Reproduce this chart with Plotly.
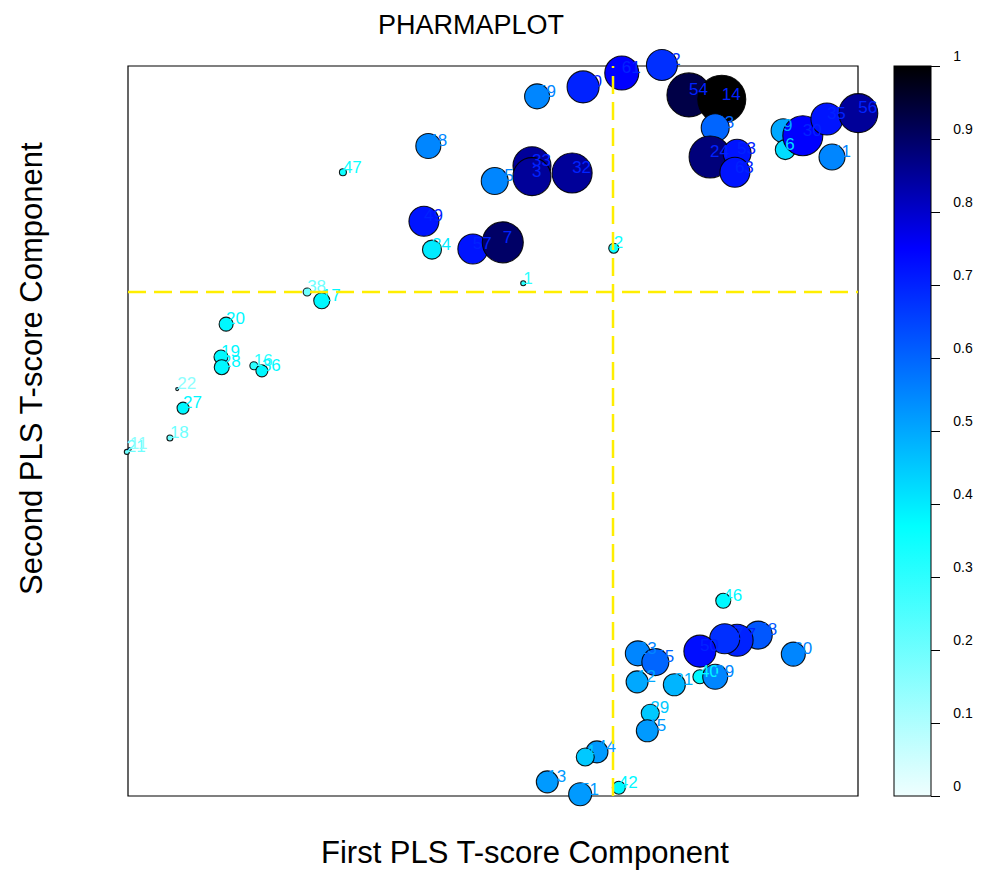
import plotly.graph_objects as go

# ---- data (T-score components, colour score, bubble weight, compound labels) ----
labels = ["52", "54", "14", "43", "24", "53", "63", "9", "6", "30", "35", "56", "41",
          "59", "10", "61", "48", "25", "33", "3", "32", "49", "34", "57", "7", "2", "1", "47",
          "38", "17", "20", "19", "28", "16", "36", "22", "27", "18", "21", "11",
          "46", "58", "37", "47", "50", "60", "23", "55", "12", "31", "40", "39",
          "29", "45", "44", "4", "13", "51", "42"]
t1 = [0.67, 1.04, 1.49, 1.40, 1.33, 1.70, 1.67, 2.33, 2.36, 2.60, 2.93, 3.36, 3.00,
      -1.04, -0.41, 0.12, -2.53, -1.62, -1.11, -1.11, -0.56, -2.59, -2.48, -1.92, -1.51, 0.01, -1.23, -3.70,
      -4.19, -3.99, -5.30, -5.37, -5.36, -4.92, -4.81, -5.97, -5.89, -6.07, -6.66, -6.62,
      1.51, 1.99, 1.70, 1.53, 1.19, 2.47, 0.34, 0.58, 0.33, 0.84, 1.19, 1.40,
      0.51, 0.47, -0.22, -0.38, -0.90, -0.45, 0.08]
t2 = [3.11, 2.70, 2.64, 2.25, 1.85, 1.90, 1.64, 2.21, 1.95, 2.14, 2.37, 2.45, 1.85,
      2.68, 2.81, 3.00, 2.00, 1.52, 1.73, 1.58, 1.63, 0.97, 0.58, 0.59, 0.68, 0.60, 0.12, 1.64,
      0.00, -0.12, -0.44, -0.89, -1.03, -1.01, -1.08, -1.33, -1.59, -2.00, -2.19, -2.15,
      -4.23, -4.70, -4.77, -4.75, -4.92, -4.96, -4.95, -5.07, -5.34, -5.38, -5.27, -5.27,
      -5.77, -6.01, -6.30, -6.37, -6.71, -6.88, -6.79]
score = [0.68, 0.93, 1.00, 0.60, 0.88, 0.72, 0.72, 0.50, 0.42, 0.75, 0.72, 0.85, 0.55,
         0.55, 0.70, 0.75, 0.55, 0.55, 0.85, 0.85, 0.85, 0.72, 0.40, 0.72, 0.90, 0.35, 0.30, 0.35,
         0.20, 0.38, 0.38, 0.38, 0.38, 0.30, 0.38, 0.15, 0.38, 0.20, 0.20, 0.15,
         0.38, 0.62, 0.70, 0.68, 0.73, 0.55, 0.55, 0.60, 0.50, 0.48, 0.38, 0.55,
         0.45, 0.52, 0.52, 0.45, 0.52, 0.52, 0.38]
weight = [31, 44, 48, 28, 42, 28, 30, 24, 20, 40, 32, 39, 26,
          25, 32, 34, 25, 27, 38, 38, 40, 30, 19, 30, 41, 10, 5, 7,
          8, 16, 14, 14, 15, 8, 12, 3, 12, 6, 5, 3,
          15, 28, 32, 30, 32, 24, 25, 27, 22, 22, 14, 25,
          18, 22, 22, 18, 22, 23, 13]

# frame (axis extent) of the score plot and reference lines
frame_x = [-6.644, 3.356]
frame_y = [-6.904, 3.096]
ref_x = 0.0
ref_y = 0.0
cbar_ticks = [0, 0.1, 0.2, 0.3, 0.4, 0.5, 0.6, 0.7, 0.8, 0.9, 1]

# ---- style ----
cscale = [[0.0, "#effefe"], [0.37, "#00ffff"], [0.75, "#0000ff"], [1.0, "#000000"]]


def hex2rgb(h):
    h = h.lstrip("#")
    return [int(h[i:i + 2], 16) for i in (0, 2, 4)]


def cs_color(v):
    for (a, ca), (b, cb) in zip(cscale[:-1], cscale[1:]):
        if a <= v <= b:
            f = (v - a) / (b - a)
            c1, c2 = hex2rgb(ca), hex2rgb(cb)
            return [c1[i] + f * (c2[i] - c1[i]) for i in range(3)]
    return hex2rgb(cscale[-1][1])


def label_color(v):
    c = cs_color(min(v, 0.70))
    return "rgb(%d,%d,%d)" % tuple(int(round(x)) for x in c)


font = "Liberation Sans, Arial, sans-serif"

W, H = 984, 870
ML, MR, MT, MB = 91, 89, 29, 37
PW, PH = W - ML - MR, H - MT - MB
pad = 37 / 73.0
xr = [frame_x[0] - pad, frame_x[1] + pad]
yr = [frame_y[0] - pad, frame_y[1] + pad]
ppu = PH / (yr[1] - yr[0])
lift = 4 / ppu  # text labels sit slightly above the marker centre


def px2paper_x(px):
    return (px - ML) / PW


def px2paper_y(py):
    return (H - MB - py) / PH


nb = "\u00a0" * 5

fig = go.Figure()
# bubbles on the base axis
fig.add_trace(go.Scatter(
    x=t1, y=t2, mode="markers", text=labels, showlegend=False, cliponaxis=False,
    yaxis="y",
    marker=dict(size=weight, sizemode="diameter", color=score, colorscale=cscale,
                cmin=0, cmax=1, opacity=1,
                line=dict(color="rgba(0,0,0,0.9)", width=1.1),
                colorbar=dict(x=px2paper_x(894), xanchor="left",
                              y=px2paper_y(796), yanchor="bottom",
                              len=730 / PH, lenmode="fraction", thickness=37,
                              outlinecolor="black", outlinewidth=1, tickvals=cbar_ticks,
                              ticktext=[nb + ("%g" % v) for v in cbar_ticks],
                              ticks="outside", ticklen=9, tickcolor="black",
                              ticklabelposition="outside top",
                              tickfont=dict(family="Liberation Sans Narrow, Arial Narrow, sans-serif",
                                            size=14, color="black"),
                              xpad=0, ypad=0))))
# labels drawn on top, on an overlaid axis lifted a few pixels
fig.add_trace(go.Scatter(
    x=t1, y=t2, mode="text", text=labels, textposition="middle right",
    textfont=dict(family=font, size=17, color=[label_color(v) for v in score]),
    hoverinfo="skip", showlegend=False, cliponaxis=False, yaxis="y2"))

fig.add_shape(type="rect", xref="x", yref="y", x0=frame_x[0], x1=frame_x[1],
              y0=frame_y[0], y1=frame_y[1], line=dict(color="black", width=1.2),
              layer="below")
fig.add_shape(type="line", xref="x", yref="y", x0=ref_x, x1=ref_x, y0=frame_y[0], y1=frame_y[1],
              line=dict(color="#ffee00", width=2.5, dash="18px,8px"), layer="above")
fig.add_shape(type="line", xref="x", yref="y", x0=frame_x[0], x1=frame_x[1], y0=ref_y, y1=ref_y,
              line=dict(color="#ffee00", width=2.5, dash="18px,8px"), layer="above")

fig.add_annotation(text="PHARMAPLOT", xref="paper", yref="paper",
                   x=px2paper_x(471), y=px2paper_y(25), xanchor="center", yanchor="middle",
                   showarrow=False, font=dict(family=font, size=27, color="black"))
fig.add_annotation(text="First PLS T-score Component", xref="paper", yref="paper",
                   x=px2paper_x(525), y=px2paper_y(852), xanchor="center", yanchor="middle",
                   showarrow=False, font=dict(family=font, size=31, color="black"))
fig.add_annotation(text="Second PLS T-score Component", xref="paper", yref="paper",
                   x=px2paper_x(32), y=px2paper_y(369), xanchor="center", yanchor="middle",
                   textangle=-90, showarrow=False,
                   font=dict(family=font, size=31, color="black"))

axis_common = dict(showgrid=False, zeroline=False, showticklabels=False, ticks="",
                   showline=False)
fig.update_layout(
    width=W, height=H,
    margin=dict(l=ML, r=MR, t=MT, b=MB, autoexpand=False),
    paper_bgcolor="white", plot_bgcolor="white",
    xaxis=dict(range=xr, **axis_common),
    yaxis=dict(range=yr, **axis_common),
    yaxis2=dict(range=[yr[0] - lift, yr[1] - lift], overlaying="y", **axis_common),
)

fig.write_html("out.html")
